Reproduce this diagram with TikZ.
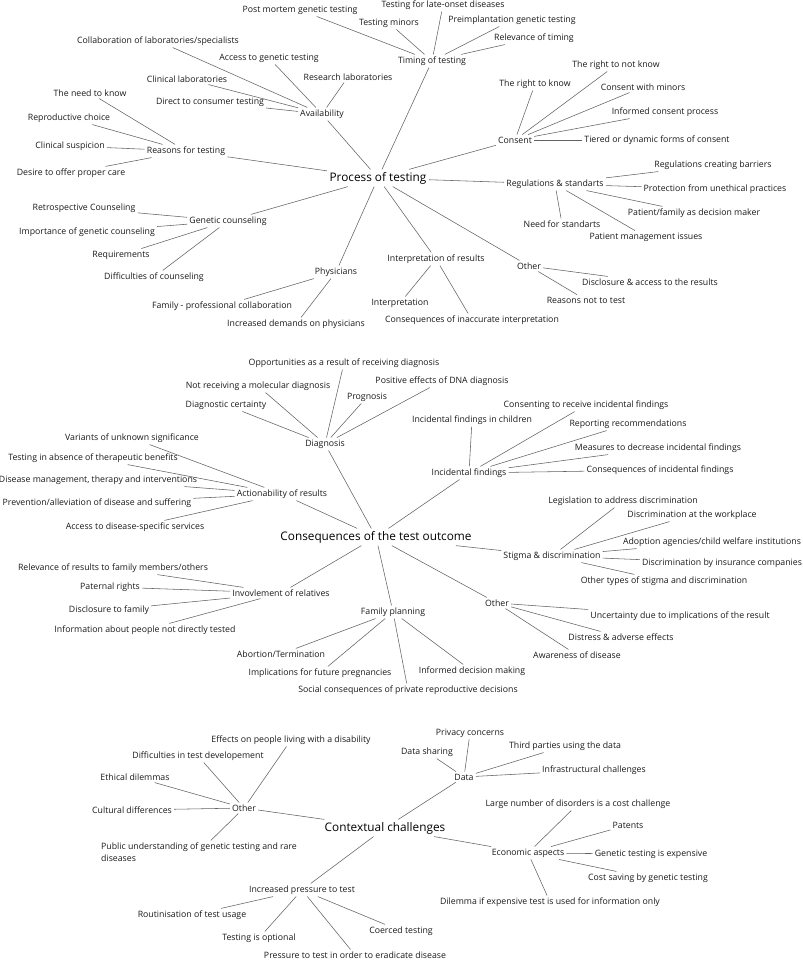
\documentclass[tikz,border=0pt]{standalone}
\usepackage{fontspec}
\setmainfont{Open Sans}
\begin{document}
\begin{tikzpicture}[x=1pt,y=-1pt,
  lf/.style={font=\fontsize{8.75}{12}\selectfont, inner sep=2pt, text=black!90},
  hub/.style={font=\fontsize{11.8}{14}\selectfont, inner sep=2.5pt, text=black},
  ln/.style={draw=black!62, line width=0.55pt}]
\useasboundingbox (0,0) rectangle (803,961);
\tikzset{every node/.append style={lf}}
% ---------------- Process of testing ----------------
\node[hub] (p0) at (378,178) {Process of testing};
\node (t0) at (432,61) {Timing of testing};
\node (t1) at (443,5) {Testing for late-onset diseases};
\node (t2) at (300,10) {Post mortem genetic testing};
\node (t3) at (389,23) {Testing minors};
\node (t4) at (512,20) {Preimplantation genetic testing};
\node (t5) at (534,38) {Relevance of timing};
\node (a0) at (322,114) {Availability};
\node (a1) at (158,41) {Collaboration of laboratories/specialists};
\node (a2) at (269,58) {Access to genetic testing};
\node (a3) at (348,77) {Research laboratories};
\node (a4) at (187,79) {Clinical laboratories};
\node (a5) at (210,102) {Direct to consumer testing};
\node (r0) at (186,151) {Reasons for testing};
\node (r1) at (90,93) {The need to know};
\node (r2) at (69,118) {Reproductive choice};
\node (r3) at (70,146) {Clinical suspicion};
\node (r4) at (71,173) {Desire to offer proper care};
\node (g0) at (228,221) {Genetic counseling};
\node (g1) at (84,208) {Retrospective Counseling};
\node (g2) at (87,232) {Importance of genetic counseling};
\node (g3) at (121,255) {Requirements};
\node (g4) at (154,277) {Difficulties of counseling};
\node (h0) at (336,272) {Physicians};
\node (h1) at (222,306) {Family - professional collaboration};
\node (h2) at (296,324) {Increased demands on physicians};
\node (i0) at (436,259) {Interpretation of results};
\node (i1) at (400,303) {Interpretation};
\node (i2) at (472,320) {Consequences of inaccurate interpretation};
\node (o0) at (529,266) {Other};
\node (o1) at (650,282) {Disclosure \& access to the results};
\node (o2) at (586,300) {Reasons not to test};
\node (c0) at (515,140) {Consent};
\node (c1) at (535,84) {The right to know};
\node (c2) at (616,65) {The right to not know};
\node (c3) at (643,87) {Consent with minors};
\node (c4) at (665,112) {Informed consent process};
\node (c5) at (657,140) {Tiered or dynamic forms of consent};
\node (s0) at (555,184) {Regulations \& standarts};
\node (s1) at (713,165) {Regulations creating barriers};
\node (s2) at (715,189) {Protection from unethical practices};
\node (s3) at (694,213) {Patient/family as decision maker};
\node (s4) at (562,224) {Need for standarts};
\node (s5) at (646,237) {Patient management issues};
\foreach \c in {t0,a0,r0,g0,h0,i0,o0,c0,s0} \draw[ln] (p0) -- (\c);
\foreach \c in {t1,t2,t3,t4,t5} \draw[ln] (t0) -- (\c);
\foreach \c in {a1,a2,a3,a4,a5} \draw[ln] (a0) -- (\c);
\foreach \c in {r1,r2,r3,r4} \draw[ln] (r0) -- (\c);
\foreach \c in {g1,g2,g3,g4} \draw[ln] (g0) -- (\c);
\foreach \c in {h1,h2} \draw[ln] (h0) -- (\c);
\foreach \c in {i1,i2} \draw[ln] (i0) -- (\c);
\foreach \c in {o1,o2} \draw[ln] (o0) -- (\c);
\foreach \c in {c1,c2,c3,c4,c5} \draw[ln] (c0) -- (\c);
\foreach \c in {s1,s2,s3,s4,s5} \draw[ln] (s0) -- (\c);
% ---------------- Consequences of the test outcome ----------------
\node[hub] (q0) at (376,537) {Consequences of the test outcome};
\node (d0) at (325,444) {Diagnosis};
\node (d1) at (344,363) {Opportunities as a result of receiving diagnosis};
\node (d2) at (258,386) {Not receiving a molecular diagnosis};
\node (d3) at (367,397) {Prognosis};
\node (d4) at (442,381) {Positive effects of DNA diagnosis};
\node (d5) at (226,405) {Diagnostic certainty};
\node (b0) at (282,494) {Actionability of results};
\node (b1) at (132,438) {Variants of unknown significance};
\node (b2) at (93,458) {Testing in absence of therapeutic benefits};
\node (b3) at (98,480) {Disease management, therapy and interventions};
\node (b4) at (97,503) {Prevention/alleviation of disease and suffering};
\node (b5) at (135,527) {Access to disease-specific services};
\node (f0) at (469,473) {Incidental findings};
\node (f1) at (472,420) {Incidental findings in children};
\node (f2) at (586,405) {Consenting to receive incidental findings};
\node (f3) at (628,424) {Reporting recommendations};
\node (f4) at (658,448) {Measures to decrease incidental findings};
\node (f5) at (660,470) {Consequences of incidental findings};
\node (m0) at (552,556) {Stigma \& discrimination};
\node (m1) at (623,501) {Legislation to address discrimination};
\node (m2) at (692,515) {Discrimination at the workplace};
\node (m3) at (712,542) {Adoption agencies/child welfare institutions};
\node (m4) at (722,563) {Discrimination by insurance companies};
\node (m5) at (664,581) {Other types of stigma and discrimination};
\node (e0) at (497,603) {Other};
\node (e1) at (680,616) {Uncertainty due to implications of the result};
\node (e2) at (621,637) {Distress \& adverse effects};
\node (e3) at (577,655) {Awareness of disease};
\node (k0) at (393,612) {Family planning};
\node (k1) at (281,654) {Abortion/Termination};
\node (k2) at (320,673) {Implications for future pregnancies};
\node (k3) at (472,671) {Informed decision making};
\node (k4) at (408,690) {Social consequences of private reproductive decisions};
\node (v0) at (281,593) {Invovlement of relatives};
\node (v1) at (113,568) {Relevance of results to family members/others};
\node (v2) at (110,587) {Paternal rights};
\node (v3) at (109,610) {Disclosure to family};
\node (v4) at (145,630) {Information about people not directly tested};
\foreach \c in {d0,b0,f0,m0,e0,k0,v0} \draw[ln] (q0) -- (\c);
\foreach \c in {d1,d2,d3,d4,d5} \draw[ln] (d0) -- (\c);
\foreach \c in {b1,b2,b3,b4,b5} \draw[ln] (b0) -- (\c);
\foreach \c in {f1,f2,f3,f4,f5} \draw[ln] (f0) -- (\c);
\foreach \c in {m1,m2,m3,m4,m5} \draw[ln] (m0) -- (\c);
\foreach \c in {e1,e2,e3} \draw[ln] (e0) -- (\c);
\foreach \c in {k1,k2,k3,k4} \draw[ln] (k0) -- (\c);
\foreach \c in {v1,v2,v3,v4} \draw[ln] (v0) -- (\c);
% ---------------- Contextual challenges ----------------
\node[hub] (x0) at (385,828) {Contextual challenges};
\node (y0) at (244,808) {Other};
\node (y1) at (291,740) {Effects on people living with a disability};
\node (y2) at (198,756) {Difficulties in test developement};
\node (y3) at (135,777) {Ethical dilemmas};
\node (y4) at (132,810) {Cultural differences};
\node[anchor=west, align=left] (y5) at (99,852) {Public understanding of genetic testing and rare\\diseases};
\node (w0) at (302,890) {Increased pressure to test};
\node (w1) at (192,915) {Routinisation of test usage};
\node (w2) at (259,938) {Testing is optional};
\node (w3) at (401,931) {Coerced testing};
\node (w4) at (355,955) {Pressure to test in order to eradicate disease};
\node (z0) at (464,777) {Data};
\node (z1) at (470,733) {Privacy concerns};
\node (z2) at (427,752) {Data sharing};
\node (z3) at (565,746) {Third parties using the data};
\node (z4) at (594,770) {Infrastructural challenges};
\node (u0) at (528,853) {Economic aspects};
\node (u1) at (578,804) {Large number of disorders is a cost challenge};
\node (u2) at (628,825) {Patents};
\node (u3) at (651,854) {Genetic testing is expensive};
\node (u4) at (648,878) {Cost saving by genetic testing};
\node (u5) at (550,902) {Dilemma if expensive test is used for information only};
\foreach \c in {y0,w0,z0,u0} \draw[ln] (x0) -- (\c);
\foreach \c in {y1,y2,y3,y4,y5} \draw[ln] (y0) -- (\c);
\foreach \c in {w1,w2,w3,w4} \draw[ln] (w0) -- (\c);
\foreach \c in {z1,z2,z3,z4} \draw[ln] (z0) -- (\c);
\foreach \c in {u1,u2,u3,u4,u5} \draw[ln] (u0) -- (\c);
\end{tikzpicture}
\end{document}
